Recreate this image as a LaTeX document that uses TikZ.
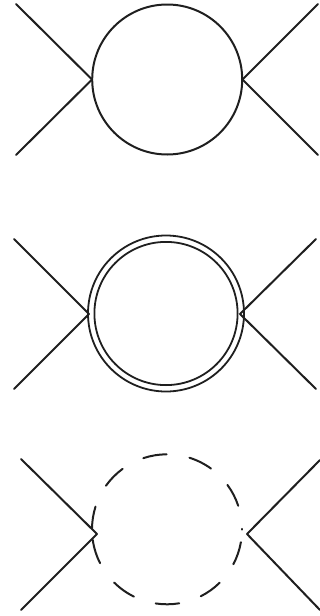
\documentclass[tikz,border=0pt]{standalone}
\tikzset{
  leg/.style={draw=black!88,line width=2pt,line cap=round},
  loop/.style={draw=black!88,line width=2pt,line cap=round},
  thinloop/.style={draw=black!88,line width=1.8pt,line cap=round},
}
\begin{document}
\begin{tikzpicture}[x=1pt,y=-1pt]
\useasboundingbox (0,0) rectangle (320,616);
% top diagram
\coordinate (a1) at (16,4);
\coordinate (a2) at (16,155);
\coordinate (a3) at (318,4);
\coordinate (a4) at (318,155);
\coordinate (aL) at (92,79.5);
\coordinate (aR) at (242.5,79.5);
\coordinate (aC) at (167.2,79.5);
\draw[leg] (a1) -- (aL);
\draw[leg] (a2) -- (aL);
\draw[leg] (a3) -- (aR);
\draw[leg] (a4) -- (aR);
\draw[loop] (aC) circle[radius=75];
% middle diagram
\coordinate (b1) at (14,239);
\coordinate (b2) at (14,389);
\coordinate (b3) at (316,239);
\coordinate (b4) at (316,389);
\coordinate (bL) at (89,314);
\coordinate (bR) at (240,314);
\coordinate (bC) at (166,313.5);
\draw[leg] (b1) -- (bL);
\draw[leg] (b2) -- (bL);
\draw[leg] (b3) -- (bR);
\draw[leg] (b4) -- (bR);
\draw[thinloop] (bC) circle[radius=78];
\draw[thinloop] (bC) circle[radius=71.6];
% bottom diagram
\coordinate (c1) at (21,459);
\coordinate (c2) at (21,610);
\coordinate (c3) at (320,460);
\coordinate (c4) at (320,610);
\coordinate (cL) at (97,534);
\coordinate (cR) at (247,534);
\coordinate (cC) at (167,529.3);
\draw[leg] (c1) -- (cL);
\draw[leg] (c2) -- (cL);
\draw[leg] (c3) -- (cR);
\draw[leg] (c4) -- (cR);
\begin{scope}[y=1pt]
\foreach \s/\e in {90.3/108.4,54.1/72.6,18.3/36.3,-0.3/0.3,-27.8/-9.9,-63.2/-45.4,-98.7/-80.6,-134.8/-116.2,-171.9/-153.2,162.4/179.2,126.3/144.5}
  \draw[loop] ([shift={(\s:75)}]cC) arc[start angle=\s,end angle=\e,radius=75];
\end{scope}
\end{tikzpicture}
\end{document}
